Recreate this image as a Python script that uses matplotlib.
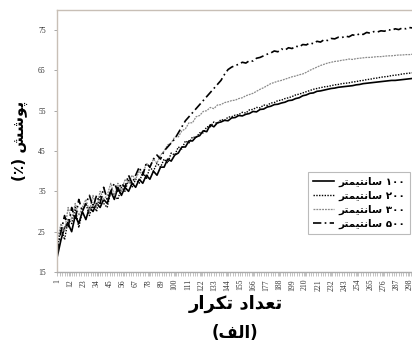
import matplotlib
matplotlib.use("Agg")
import matplotlib.pyplot as plt

# تکرارها (هر 3 تکرار یک نقطه)
iterations = list(range(1, 302, 3))

cov_100 = [19, 23, 26, 27, 25, 29, 27, 30, 28, 31,
           30, 32, 31, 33, 32, 35, 33, 36, 34, 36,
           35, 37, 36, 38, 37, 39, 38, 40, 39, 41,
           41, 43, 42.5, 44, 44.5, 46, 46, 47.5, 47.5, 48.5,
           48.8, 50, 49.8, 51.5, 51, 52, 52.2, 52.6, 52.5, 53.2,
           53.3, 53.8, 53.7, 54.1, 54.3, 54.8, 54.7, 55.3, 55.4, 55.9,
           56.1, 56.5, 56.6, 56.9, 57.1, 57.5, 57.6, 58, 58.2, 58.7,
           58.9, 59.3, 59.4, 59.8, 59.9, 60.1, 60.3, 60.5, 60.6, 60.8,
           60.9, 61, 61.1, 61.2, 61.4, 61.5, 61.7, 61.8, 61.9, 62,
           62.1, 62.2, 62.3, 62.4, 62.5, 62.5, 62.6, 62.7, 62.8, 62.9,
           63]
cov_200 = [21, 26, 23, 28, 27, 31, 26, 30, 32, 29,
           32, 30, 34, 32, 31, 35, 34, 33, 36, 35,
           38, 36, 38, 37, 40, 38, 41, 40, 42, 41,
           43, 42, 44.5, 44, 46, 45.5, 47.5, 47, 48.5, 48.3,
           49.5, 49.5, 51, 51, 52.2, 51.8, 52.8, 52.6, 53.4, 53.5,
           53.9, 54, 54.6, 54.4, 55.2, 55.3, 55.8, 55.7, 56.4, 56.3,
           56.9, 57, 57.5, 57.6, 58, 58.2, 58.5, 58.9, 59.1, 59.4,
           59.7, 60, 60.3, 60.5, 60.7, 60.9, 61, 61.2, 61.4, 61.5,
           61.7, 61.8, 61.9, 62.1, 62.2, 62.4, 62.5, 62.7, 62.8, 63,
           63.1, 63.3, 63.4, 63.5, 63.7, 63.8, 63.9, 64.1, 64.2, 64.3,
           64.4]
cov_300 = [23, 27, 25, 31, 28, 32, 29, 31, 33, 30,
           34, 31, 35, 33, 34, 37, 34, 37, 35, 38,
           37, 39, 38, 40, 39, 42, 41, 43, 42, 44,
           45, 46.5, 47, 48.5, 48.5, 50, 50.5, 52, 52, 53.5,
           53.8, 54.8, 55, 55.8, 55.5, 56.4, 56.5, 57, 57.2, 57.5,
           57.6, 58, 58.2, 58.7, 59, 59.3, 59.8, 60.3, 60.7, 61.2,
           61.7, 62, 62.3, 62.5, 62.8, 63.1, 63.4, 63.6, 63.9, 64.1,
           64.5, 65, 65.4, 65.8, 66.2, 66.5, 66.8, 67, 67.2, 67.3,
           67.5, 67.6, 67.8, 67.7, 67.9, 68, 68.1, 68.2, 68.2, 68.3,
           68.4, 68.4, 68.5, 68.6, 68.6, 68.7, 68.8, 68.8, 68.9, 68.9,
           69]
cov_500 = [20, 25, 29, 26, 31, 28, 33, 30, 32, 34,
           31, 34, 32, 36, 33, 35, 37, 35, 37, 36,
           39, 37, 39, 41, 39, 42, 41, 43, 44, 43,
           45, 46, 47, 48, 49.5, 51, 52.5, 53.5, 54.5, 55.5,
           56.5, 57.5, 58.5, 59.5, 60.5, 61.5, 62.5, 64, 65.2, 65.8,
           66.2, 66.5, 67, 66.8, 67.4, 67.3, 68, 68.2, 68.6, 69,
           69.3, 69.8, 69.6, 70.3, 70, 70.6, 70.4, 71, 70.8, 71.4,
           71.3, 71.8, 71.6, 72.2, 72, 72.6, 72.4, 72.9, 72.8, 73.2,
           73.1, 73.5, 73.3, 73.8, 73.6, 74.1, 73.9, 74.4, 74.2, 74.6,
           74.5, 74.8, 74.7, 75.1, 74.9, 75.3, 75.1, 75.5, 75.3, 75.6,
           75.5]

x_ticks = list(range(1, 299, 11))
y_ticks = [15, 25, 35, 45, 55, 65, 75]

# متن فارسی به شکل حروف نمایشی و ترتیب دیداری
lbl_cm = "\uFEAE\uFE98\uFEE4\uFBFF\uFE98\uFEE7\uFE8E\uFEB3"
legend_labels = [lbl_cm + " \u06F1\u06F0\u06F0", lbl_cm + " \u06F2\u06F0\u06F0",
                 lbl_cm + " \u06F3\u06F0\u06F0", lbl_cm + " \u06F5\u06F0\u06F0"]
y_title = "(\u066A) \uFEB6\uFEB7\uFEEE\uFB58"
x_title = "\uFEAD\uFE8D\uFEAE\uFB91\uFE97 \uFEA9\uFE8D\uFEAA\uFECC\uFE97"
sub_title = "(\uFED2\uFEDF\uFE8D)"

fig = plt.figure(figsize=(4.12, 3.51), dpi=100)
ax = fig.add_axes([0.138, 0.225, 0.87, 0.747])

ax.plot(iterations, cov_100, color="black", lw=1.2, ls="-", label=legend_labels[0])
ax.plot(iterations, cov_200, color="black", lw=1.0, ls=(0, (1, 1)), label=legend_labels[1])
ax.plot(iterations, cov_300, color="#8a8a8a", lw=0.9, ls=(0, (1.5, 0.8)), label=legend_labels[2])
ax.plot(iterations, cov_500, color="black", lw=1.2, ls=(0, (5, 2, 1, 2)), label=legend_labels[3])

ax.set_xlim(0.5, 303)
ax.set_ylim(15, 80)
ax.set_yticks(y_ticks)
ax.set_xticks(x_ticks)
ax.set_xticks(range(1, 302, 2), minor=True)
ax.set_yticklabels([str(v) for v in y_ticks], family="Liberation Serif", fontsize=5.5, color="#333333")
ax.set_xticklabels([str(v) for v in x_ticks], family="Liberation Serif", fontsize=5.5,
                   rotation=90, color="#333333")
ax.tick_params(axis="y", length=2, width=0.6, color="#999999", pad=6)
ax.tick_params(axis="x", which="both", length=3, width=0.5, color="#aaaaaa", pad=2)

for s in ax.spines.values():
    s.set_color("#c8bfb6")
    s.set_linewidth(1.0)
ax.spines["bottom"].set_color("#aaaaaa")

ax.set_ylabel(y_title, family="DejaVu Sans", fontweight="bold", fontsize=11, labelpad=7)
ax.set_xlabel(x_title, family="DejaVu Sans", fontweight="bold", fontsize=13, labelpad=3)
fig.text(0.57, 0.05, sub_title, family="DejaVu Sans", fontweight="bold", fontsize=12,
         ha="center", va="center")

leg = ax.legend(loc="lower right", bbox_to_anchor=(1.0, 0.125), frameon=True,
                fancybox=False, edgecolor="#aaaaaa", handlelength=2.0, handletextpad=0.4,
                labelspacing=0.35, borderpad=0.5,
                prop={"family": "DejaVu Sans", "weight": "bold", "size": 7.5})
leg.get_frame().set_linewidth(0.8)

fig.savefig("out.png", dpi=100)
